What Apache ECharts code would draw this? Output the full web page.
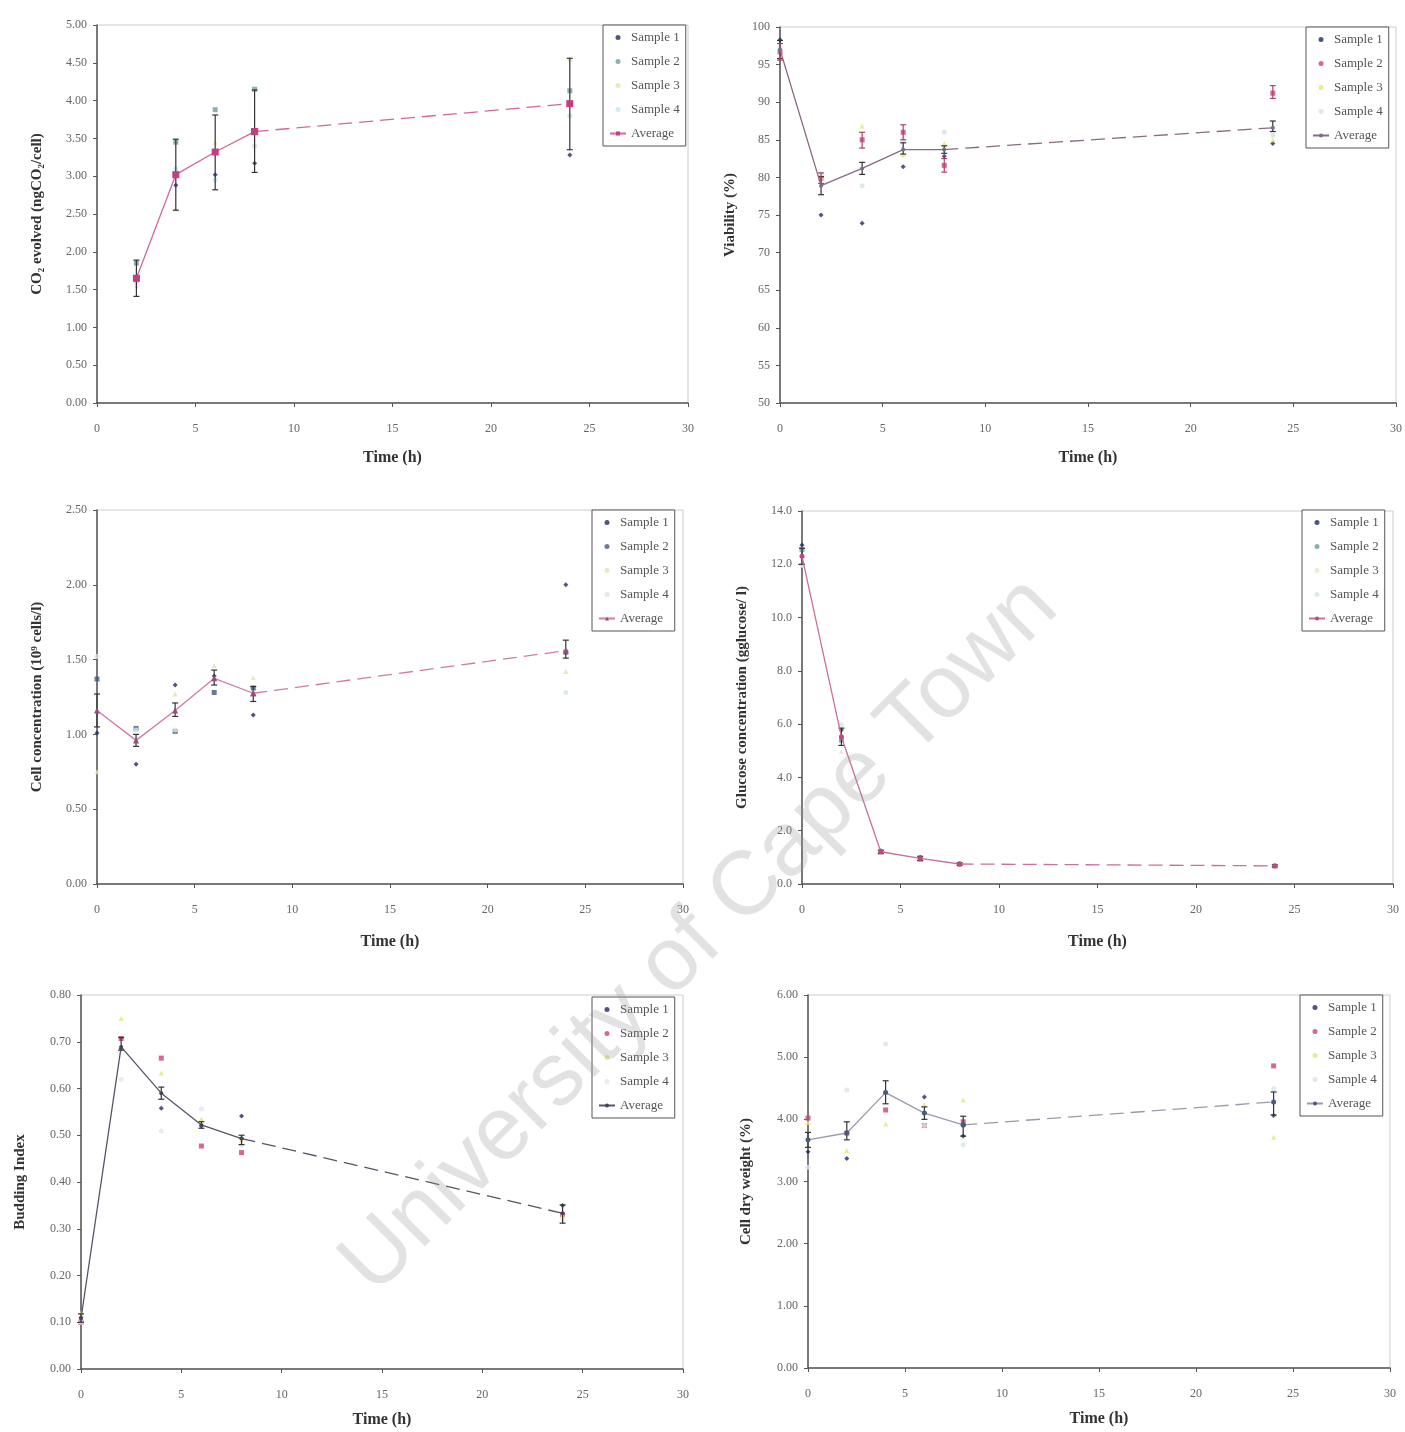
<!DOCTYPE html>
<html><head><meta charset="utf-8">
<script src="https://cdn.jsdelivr.net/npm/echarts@6/dist/echarts.min.js"></script>
<style>html,body{margin:0;padding:0;background:#fff}#c{width:1405px;height:1432px}</style>
</head><body><div id="c"></div>
<script>
// ---------- DATA ----------
const times = [0, 2, 4, 6, 8, 24];
const timesCO2 = [2, 4, 6, 8, 24];
const sampleNames = ['Sample 1', 'Sample 2', 'Sample 3', 'Sample 4'];
const avgName = 'Average';

// Panel 1: CO2 evolved (ngCO2/cell)
const co2_s1 = [1.62, 2.88, 3.02, 3.17, 3.28];
const co2_s2 = [1.85, 3.45, 3.88, 4.15, 4.13];
const co2_s3 = [1.55, 2.57, 3.45, 3.62, 4.55];
const co2_s4 = [1.60, 3.10, 2.95, 3.40, 3.80];
const co2_avg = [1.65, 3.02, 3.32, 3.59, 3.96];
const co2_lo = [1.41, 2.55, 2.82, 3.05, 3.35];
const co2_hi = [1.89, 3.49, 3.81, 4.14, 4.56];

// Panel 2: Viability (%)
const via_s1 = [98.3, 75.0, 73.9, 81.4, 82.8, 84.5];
const via_s2 = [96.7, 79.9, 85.0, 86.0, 81.6, 91.2];
const via_s3 = [96.0, 80.0, 86.8, 83.0, 84.5, 85.0];
const via_s4 = [97.2, 80.5, 78.9, 85.0, 86.0, 85.6];
const via_avg = [97.0, 78.9, 81.2, 83.7, 83.7, 86.6];
const via_lo = [95.8, 77.7, 80.4, 83.1, 83.2, 86.1];
const via_hi = [98.2, 80.1, 82.0, 84.6, 84.2, 87.5];
const via_s2_lo = [95.6, 79.2, 83.9, 85.0, 80.7, 90.5];
const via_s2_hi = [97.8, 80.6, 86.0, 87.0, 82.5, 92.2];

// Panel 3: Cell concentration (10^9 cells/l)
const cc_s1 = [1.01, 0.80, 1.33, 1.39, 1.13, 2.00];
const cc_s2 = [1.37, 1.04, 1.02, 1.28, 1.31, 1.55];
const cc_s3 = [0.75, 0.97, 1.27, 1.46, 1.38, 1.42];
const cc_s4 = [1.52, 1.03, 1.03, 1.37, 1.28, 1.28];
const cc_avg = [1.16, 0.96, 1.16, 1.375, 1.275, 1.56];
const cc_lo = [1.05, 0.92, 1.12, 1.33, 1.22, 1.51];
const cc_hi = [1.27, 1.00, 1.21, 1.43, 1.32, 1.63];

// Panel 4: Glucose concentration (g glucose/l)
const gl_s1 = [12.72, 5.78, 1.25, 1.00, 0.76, 0.69];
const gl_s2 = [12.55, 5.40, 1.18, 0.93, 0.74, 0.67];
const gl_s3 = [11.95, 4.97, 1.20, 0.95, 0.75, 0.68];
const gl_s4 = [12.00, 5.98, 1.21, 0.96, 0.75, 0.68];
const gl_avg = [12.30, 5.53, 1.21, 0.96, 0.75, 0.68];
const gl_lo = [12.00, 5.20, 1.15, 0.88, 0.70, 0.64];
const gl_hi = [12.60, 5.85, 1.27, 1.04, 0.80, 0.72];

// Panel 5: Budding index
const bi_s1 = [0.11, 0.685, 0.558, 0.520, 0.541, 0.35];
const bi_s2 = [0.10, 0.707, 0.665, 0.477, 0.463, 0.33];
const bi_s3 = [0.12, 0.750, 0.633, 0.535, 0.490, 0.33];
const bi_s4 = [0.10, 0.620, 0.509, 0.556, 0.478, 0.32];
const bi_avg = [0.108, 0.689, 0.590, 0.522, 0.493, 0.333];
const bi_lo = [0.100, 0.682, 0.577, 0.515, 0.480, 0.312];
const bi_hi = [0.118, 0.709, 0.603, 0.529, 0.500, 0.351];

// Panel 6: Cell dry weight (%)
const dw_s1 = [3.48, 3.37, 4.43, 4.36, 3.73, 4.06];
const dw_s2 = [4.02, 3.78, 4.15, 3.90, 3.96, 4.86];
const dw_s3 = [3.95, 3.50, 3.93, 4.24, 4.31, 3.71];
const dw_s4 = [3.23, 4.47, 5.21, 3.90, 3.59, 4.49];
const dw_avg = [3.67, 3.78, 4.43, 4.10, 3.91, 4.28];
const dw_lo = [3.55, 3.67, 4.25, 4.00, 3.73, 4.07];
const dw_hi = [3.79, 3.96, 4.62, 4.20, 4.05, 4.44];

const xTitle = 'Time (h)';
const watermark = 'University of Cape Town';

// ---------- LAYOUT / STYLE ----------
const FONT = 'Liberation Serif';
const panels = [
  {x: timesCO2, s: [co2_s1, co2_s2, co2_s3, co2_s4], avg: co2_avg, lo: co2_lo, hi: co2_hi,
   yName: 'CO\u2082 evolved (ngCO\u2082/cell)', yMin: 0, yMax: 5, yInt: 0.5, dec: 2,
   grid: {left: 97, top: 25, width: 591, height: 378}, yGap: 52, xGap: 47,
   legend: {left: 603, top: 25},
   colors: ['#1f2d5c', '#6e9ea0', '#e4e4a0', '#c6e4ec'], avgColor: '#d2679e', avgMarker: '#c2407f', avgSym: 'rect', avgSize: 7},
  {x: times, s: [via_s1, via_s2, via_s3, via_s4], avg: via_avg, lo: via_lo, hi: via_hi,
   s2lo: via_s2_lo, s2hi: via_s2_hi,
   yName: 'Viability (%)', yMin: 50, yMax: 100, yInt: 5, dec: 0,
   grid: {left: 780, top: 27, width: 618, height: 376}, yGap: 42, xGap: 47,
   legend: {left: 1306, top: 27},
   colors: ['#1f2d5c', '#c8427f', '#e6e670', '#cfe4ea'], avgColor: '#8a6a82', avgMarker: '#707088', avgSym: 'circle', avgSize: 4},
  {x: times, s: [cc_s1, cc_s2, cc_s3, cc_s4], avg: cc_avg, lo: cc_lo, hi: cc_hi,
   yName: 'Cell concentration (10\u2079 cells/l)', yMin: 0, yMax: 2.5, yInt: 0.5, dec: 2,
   grid: {left: 97, top: 510, width: 586, height: 374}, yGap: 52, xGap: 50,
   legend: {left: 592, top: 510},
   colors: ['#1f2d5c', '#4a5a7a', '#e4e4b0', '#d6e6ea'], avgColor: '#d27aa6', avgMarker: '#9a4a7a', avgSym: 'triangle', avgSize: 6},
  {x: times, s: [gl_s1, gl_s2, gl_s3, gl_s4], avg: gl_avg, lo: gl_lo, hi: gl_hi,
   yName: 'Glucose concentration (gglucose/ l)', yMin: 0, yMax: 14, yInt: 2, dec: 1,
   grid: {left: 802, top: 511, width: 591, height: 373}, yGap: 52, xGap: 50,
   legend: {left: 1302, top: 510},
   colors: ['#1f2d5c', '#6e9ea0', '#e8e8c8', '#d6e6ea'], avgColor: '#c8709c', avgMarker: '#c04a80', avgSym: 'circle', avgSize: 5},
  {x: times, s: [bi_s1, bi_s2, bi_s3, bi_s4], avg: bi_avg, lo: bi_lo, hi: bi_hi,
   yName: 'Budding Index', yMin: 0, yMax: 0.8, yInt: 0.1, dec: 2,
   grid: {left: 81, top: 995, width: 602, height: 374}, yGap: 53, xGap: 43,
   legend: {left: 592, top: 997},
   colors: ['#1f2d5c', '#c8427f', '#e6e670', '#dde8ec'], avgColor: '#555566', avgMarker: '#444455', avgSym: 'circle', avgSize: 4},
  {x: times, s: [dw_s1, dw_s2, dw_s3, dw_s4], avg: dw_avg, lo: dw_lo, hi: dw_hi,
   yName: 'Cell dry weight (%)', yMin: 0, yMax: 6, yInt: 1, dec: 2,
   grid: {left: 808, top: 995, width: 582, height: 373}, yGap: 54, xGap: 43,
   legend: {left: 1300, top: 995},
   colors: ['#1f2d5c', '#c8427f', '#e6e670', '#d6e6ea'], avgColor: '#9a9aaa', avgMarker: '#4a5a7a', avgSym: 'circle', avgSize: 5}
];
const sampleSyms = ['diamond', 'rect', 'triangle', 'circle'];

function errRender(params, api) {
  const x = api.value(0), lo = api.value(1), hi = api.value(2);
  const a = api.coord([x, lo]), b = api.coord([x, hi]);
  const w = 3;
  const style = {stroke: api.visual('color'), lineWidth: 1.2};
  return {type: 'group', children: [
    {type: 'line', shape: {x1: a[0], y1: a[1], x2: b[0], y2: b[1]}, style: style},
    {type: 'line', shape: {x1: a[0] - w, y1: a[1], x2: a[0] + w, y2: a[1]}, style: style},
    {type: 'line', shape: {x1: b[0] - w, y1: b[1], x2: b[0] + w, y2: b[1]}, style: style}
  ]};
}

const option = {
  animation: false,
  backgroundColor: '#fff',
  textStyle: {fontFamily: FONT},
  grid: [], xAxis: [], yAxis: [], legend: [], series: [],
  graphic: [{
    type: 'text', x: 700, y: 936, rotation: Math.PI / 4, z: 100, silent: true,
    style: {text: watermark, font: '90px "Liberation Sans"', fill: 'rgba(150,150,150,0.28)',
            align: 'center', verticalAlign: 'middle'}
  }]
};

panels.forEach((p, i) => {
  option.grid.push(Object.assign({show: true, borderColor: '#cccccc', borderWidth: 1, containLabel: false}, p.grid));
  option.xAxis.push({
    type: 'value', gridIndex: i, min: 0, max: 30, interval: 5,
    name: xTitle, nameLocation: 'middle', nameGap: p.xGap,
    nameTextStyle: {fontFamily: FONT, fontSize: 16, fontWeight: 'bold', color: '#333'},
    axisLine: {lineStyle: {color: '#555', width: 1.5}},
    axisTick: {show: true, length: 4, lineStyle: {color: '#555'}},
    axisLabel: {fontFamily: FONT, fontSize: 12, color: '#666', margin: 20},
    splitLine: {show: false}
  });
  option.yAxis.push({
    type: 'value', gridIndex: i, min: p.yMin, max: p.yMax, interval: p.yInt,
    name: p.yName, nameLocation: 'middle', nameGap: p.yGap, nameRotate: 90,
    nameTextStyle: {fontFamily: FONT, fontSize: 15, fontWeight: 'bold', color: '#333'},
    axisLine: {show: true, lineStyle: {color: '#555', width: 1.5}},
    axisTick: {show: true, length: 4, lineStyle: {color: '#555'}},
    axisLabel: {fontFamily: FONT, fontSize: 12, color: '#666', margin: 10,
                formatter: v => v.toFixed(p.dec)},
    splitLine: {show: false}
  });
  const names = sampleNames.map(n => i + '|' + n).concat([i + '|' + avgName]);
  option.legend.push({
    left: p.legend.left, top: p.legend.top, orient: 'vertical',
    data: names.map((n, k) => k < 4 ? {name: n, icon: 'circle'} : {name: n}),
    formatter: n => n.split('|')[1],
    symbolKeepAspect: true,
    backgroundColor: '#fff', borderColor: '#555', borderWidth: 1,
    padding: [6, 6, 6, 6], itemGap: 11, itemWidth: 16, itemHeight: 5,
    textStyle: {fontFamily: FONT, fontSize: 13, color: '#555'},
    selectedMode: false, z: 20
  });
  p.s.forEach((arr, k) => {
    option.series.push({
      type: 'scatter', name: names[k], xAxisIndex: i, yAxisIndex: i,
      data: p.x.map((t, j) => [t, arr[j]]),
      symbol: sampleSyms[k], symbolSize: 5,
      itemStyle: {color: p.colors[k]}, z: 3
    });
  });
  // Error bars on average
  option.series.push({
    type: 'custom', name: i + '|err', xAxisIndex: i, yAxisIndex: i,
    data: p.x.map((t, j) => [t, p.lo[j], p.hi[j]]),
    encode: {x: 0, y: [1, 2]}, renderItem: errRender,
    itemStyle: {color: '#333'}, z: 4
  });
  if (p.s2lo) {
    option.series.push({
      type: 'custom', name: i + '|err2', xAxisIndex: i, yAxisIndex: i,
      data: p.x.map((t, j) => [t, p.s2lo[j], p.s2hi[j]]),
      encode: {x: 0, y: [1, 2]}, renderItem: errRender,
      itemStyle: {color: '#b0406a'}, z: 4
    });
  }
  const pts = p.x.map((t, j) => [t, p.avg[j]]);
  const split = p.x.indexOf(8);
  option.series.push({
    type: 'line', name: names[4], xAxisIndex: i, yAxisIndex: i,
    data: pts.slice(0, split + 1),
    symbol: p.avgSym, symbolSize: p.avgSize, showSymbol: true,
    lineStyle: {color: p.avgColor, width: 1.3},
    itemStyle: {color: p.avgMarker}, z: 5
  });
  option.series.push({
    type: 'line', name: names[4], xAxisIndex: i, yAxisIndex: i,
    data: pts.slice(split),
    symbol: p.avgSym, symbolSize: p.avgSize, showSymbol: true,
    lineStyle: {color: p.avgColor, width: 1.3, type: [14, 7]},
    itemStyle: {color: p.avgMarker}, z: 5
  });
});

const chart = echarts.init(document.getElementById('c'), null, {renderer: 'canvas'});
chart.setOption(option);
</script>
</body></html>
